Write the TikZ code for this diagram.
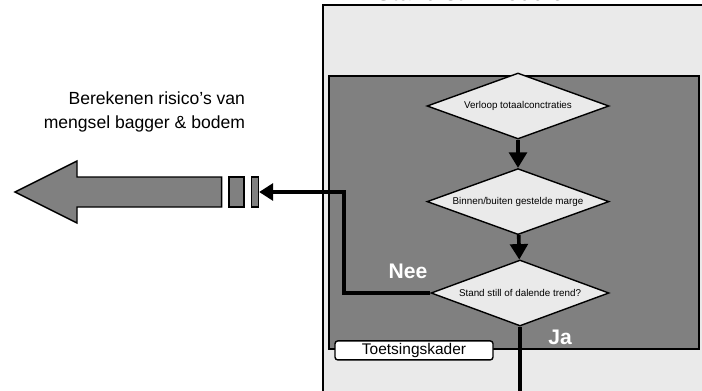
\documentclass[tikz,border=0pt]{standalone}
\usepackage{fontspec}
\setmainfont{Liberation Sans}
\definecolor{panel}{RGB}{234,234,234}
\definecolor{frame}{RGB}{128,128,128}
\usetikzlibrary{arrows.meta,shapes.geometric}
\tikzset{
  check/.style={diamond, aspect=2.75, draw=black, line width=1pt, fill=panel, inner sep=0pt,
              minimum width=4.55cm, minimum height=1.65cm, font=\fontsize{7}{8}\selectfont},
  block/.style={draw=black, line width=1pt, fill=frame, inner sep=0pt},
  flow/.style={line width=2.6pt, -{Triangle[length=11pt,width=12.5pt]}},
  answer/.style={font=\fontsize{15}{17}\selectfont\bfseries, text=white},
}

\begin{document}
\begin{tikzpicture}
    \clip (0,0) rectangle (17.55,9.75);
    % module frame with the decision panel inside
    \draw[line width=1.5pt, fill=panel] (8.075,-1) rectangle (18,9.625);
    \draw[line width=1.5pt, fill=frame] (8.225,1.025) rectangle (17.475,7.85);
    \node[font=\fontsize{17}{20}\selectfont, anchor=base] (title) at (11.75,9.74) {Stand still module};
    \node[check] (verloop) at (12.95,7.1)  {Verloop totaalconctraties};
    \node[check] (marge)   at (12.95,4.71) {Binnen/buiten gestelde marge};
    \node[check, minimum width=4.45cm] (trend) at (13.0,2.425) {Stand still of dalende trend?};
    \draw[flow] (verloop) -- (marge);
    \draw[flow] (marge) -- (trend);
    \node[answer] (nee) at (10.2,2.975) {Nee};
    \node[answer] (ja)  at (14.0,1.325) {Ja};
    \node[draw=black, line width=1pt, fill=white, rounded corners=2pt, minimum width=3.95cm,
          minimum height=0.475cm, inner sep=0pt, font=\fontsize{11}{13}\selectfont]
          (kader) at (10.35,0.99) {Toetsingskader};
    \coordinate (down) at (13.0,-0.3);
    \draw[line width=2.6pt] (trend.south) -- (down);
    % outgoing branch
    \node[block, minimum width=0.375cm, minimum height=0.75cm] (r1) at (5.9125,4.95) {};
    \node[block, minimum width=0.17cm,  minimum height=0.75cm] (r2) at (6.375,4.95) {};
    \draw[line width=2.6pt, -{Triangle[length=10pt,width=12pt]}] (trend.west) -- ++(-2.15,0) |- (r2.east);
    \draw[line width=1pt, fill=frame] (5.54,5.325) -- (1.925,5.325) -- (1.925,5.725) -- (0.375,4.95)
      -- (1.925,4.175) -- (1.925,4.575) -- (5.54,4.575) -- cycle;
    \node[anchor=east, align=right, font=\fontsize{12.5}{16.5}\selectfont] (risico) at (6.25,6.95)
      {Berekenen risico's van\\mengsel bagger \& bodem};
\end{tikzpicture}
\end{document}
